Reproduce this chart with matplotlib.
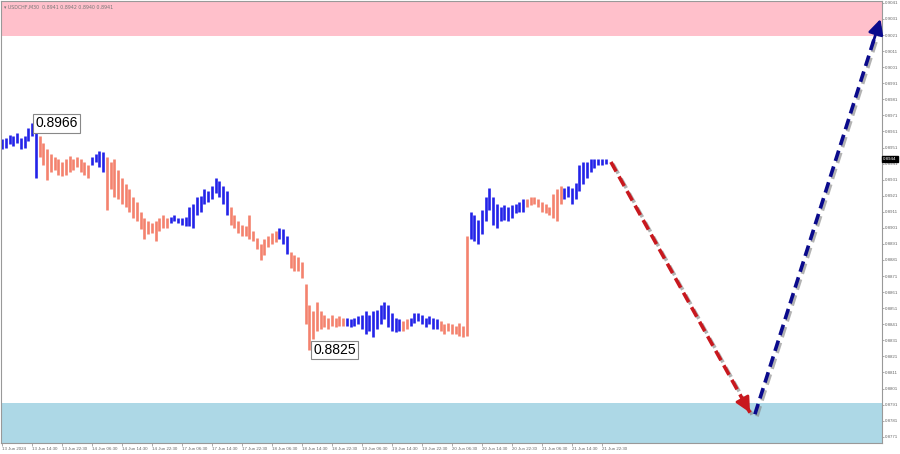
import matplotlib
matplotlib.use("Agg")
import matplotlib.pyplot as plt
import matplotlib.patheffects as pe

# USDCHF M30 chart, one entry per hour (high / low in price)
highs = [0.8956, 0.8957, 0.8959, 0.8958, 0.8960, 0.8957, 0.8958, 0.8963, 0.8966, 0.8965,
         0.8958, 0.8954, 0.8950, 0.8947, 0.8945, 0.8944, 0.8942, 0.8944, 0.8946, 0.8944,
         0.8945, 0.8944, 0.8942, 0.8940, 0.8945, 0.8947, 0.8949, 0.8948, 0.8945, 0.8942,
         0.8944, 0.8937, 0.8932, 0.8928, 0.8925, 0.8920, 0.8917, 0.8911, 0.8907, 0.8905,
         0.8904, 0.8905, 0.8907, 0.8909, 0.8907, 0.8908, 0.8909, 0.8907, 0.8907, 0.8908,
         0.8914, 0.8916, 0.8920, 0.8921, 0.8925, 0.8924, 0.8927, 0.8932, 0.8930, 0.8927,
         0.8924, 0.8914, 0.8909, 0.8905, 0.8903, 0.8902, 0.8909, 0.8899, 0.8895, 0.8891,
         0.8894, 0.8896, 0.8898, 0.8899, 0.8901, 0.8900, 0.8896, 0.8886, 0.8884, 0.8883,
         0.8880, 0.8866, 0.8853, 0.8849, 0.8855, 0.8849, 0.8847, 0.8845, 0.8847, 0.8845,
         0.8846, 0.8845, 0.8845, 0.8844, 0.8845, 0.8846, 0.8847, 0.8849, 0.8847, 0.8849,
         0.8850, 0.8853, 0.8855, 0.8853, 0.8848, 0.8845, 0.8844, 0.8843, 0.8844, 0.8845,
         0.8848, 0.8848, 0.8847, 0.8845, 0.8846, 0.8845, 0.8844, 0.8843, 0.8841, 0.8842,
         0.8841, 0.8840, 0.8842, 0.8840, 0.8896, 0.8911, 0.8909, 0.8906, 0.8912, 0.8920,
         0.8926, 0.8920, 0.8916, 0.8914, 0.8915, 0.8914, 0.8915, 0.8916, 0.8917, 0.8919,
         0.8919, 0.8920, 0.8920, 0.8919, 0.8917, 0.8916, 0.8914, 0.8922, 0.8925, 0.8927,
         0.8926, 0.8927, 0.8926, 0.8929, 0.8940, 0.8942, 0.8942, 0.8944, 0.8944, 0.8944,
         0.8944, 0.8944]
lows = [0.8950, 0.8951, 0.8953, 0.8952, 0.8954, 0.8950, 0.8951, 0.8955, 0.8958, 0.8932,
        0.8945, 0.8940, 0.8931, 0.8936, 0.8937, 0.8934, 0.8933, 0.8934, 0.8936, 0.8937,
        0.8939, 0.8936, 0.8934, 0.8932, 0.8940, 0.8942, 0.8939, 0.8936, 0.8912, 0.8925,
        0.8920, 0.8919, 0.8916, 0.8914, 0.8911, 0.8907, 0.8905, 0.8900, 0.8894, 0.8897,
        0.8898, 0.8893, 0.8899, 0.8901, 0.8901, 0.8904, 0.8905, 0.8904, 0.8903, 0.8902,
        0.8902, 0.8901, 0.8909, 0.8911, 0.8916, 0.8917, 0.8919, 0.8923, 0.8920, 0.8916,
        0.8909, 0.8903, 0.8901, 0.8898, 0.8896, 0.8896, 0.8894, 0.8893, 0.8888, 0.8881,
        0.8884, 0.8889, 0.8891, 0.8892, 0.8894, 0.8891, 0.8885, 0.8876, 0.8874, 0.8874,
        0.8870, 0.8841, 0.8825, 0.8832, 0.8837, 0.8838, 0.8839, 0.8838, 0.8840, 0.8839,
        0.8840, 0.8840, 0.8840, 0.8839, 0.8840, 0.8841, 0.8838, 0.8835, 0.8837, 0.8833,
        0.8838, 0.8841, 0.8844, 0.8839, 0.8837, 0.8836, 0.8837, 0.8837, 0.8838, 0.8840,
        0.8842, 0.8843, 0.8841, 0.8839, 0.8841, 0.8838, 0.8838, 0.8837, 0.8835, 0.8837,
        0.8835, 0.8835, 0.8834, 0.8833, 0.8834, 0.8894, 0.8893, 0.8891, 0.8897, 0.8905,
        0.8912, 0.8903, 0.8901, 0.8905, 0.8906, 0.8905, 0.8907, 0.8910, 0.8911, 0.8911,
        0.8914, 0.8915, 0.8916, 0.8914, 0.8911, 0.8910, 0.8909, 0.8907, 0.8905, 0.8916,
        0.8919, 0.8920, 0.8916, 0.8919, 0.8924, 0.8928, 0.8932, 0.8936, 0.8938, 0.8940,
        0.8940, 0.8941]

# bar index where each wave starts (alternating up / down)
wave_starts = [0, 10, 24, 28, 45, 61, 74, 77, 92, 107, 109, 117, 125, 140, 150]
up_color = "#2323e8"
down_color = "#f4826e"

time_labels = ["13 Jun 2024", "13 Jun 14:30", "13 Jun 22:30", "14 Jun 06:30", "14 Jun 14:30",
               "14 Jun 22:30", "17 Jun 06:30", "17 Jun 14:30", "17 Jun 22:30", "18 Jun 06:30",
               "18 Jun 14:30", "18 Jun 22:30", "19 Jun 06:30", "19 Jun 14:30", "19 Jun 22:30",
               "20 Jun 06:30", "20 Jun 14:30", "20 Jun 22:30", "21 Jun 06:30", "21 Jun 14:30",
               "21 Jun 22:30"]

# forecast path (bar index, price)
down_x, down_y = [162.4, 199.5], [0.8942, 0.8786]
up_x, up_y = [200.8, 234.3], [0.8785, 0.9031]

resist_zone = (0.90205, 0.9045)
support_zone = (0.8760, 0.8792)
last_price = 0.8944

# build colours per bar from the wave starts
colors = []
for i in range(len(highs)):
    n = sum(1 for s in wave_starts if s <= i)
    colors.append(up_color if n % 2 == 1 else down_color)

fig = plt.figure(figsize=(9, 4.54), dpi=100)
ax = fig.add_axes([1 / 900, 11 / 454, 881 / 900, 442 / 454])

ax.axhspan(resist_zone[0], resist_zone[1], color="#ffc0cb", lw=0, zorder=0)
ax.axhspan(support_zone[0], support_zone[1], color="#add8e6", lw=0, zorder=0)

xs = list(range(len(highs)))
ax.vlines(xs, lows, highs, colors=colors, linewidth=1.9, zorder=2)

# extremes labels
bbox = dict(boxstyle="square,pad=0.15", fc="white", ec="#888888", lw=0.8)
ax.text(8.9, 0.8966, "0.8966", fontsize=10, family="Liberation Sans", va="center",
        ha="left", bbox=bbox, zorder=4)
ax.text(83.0, 0.8825, "0.8825", fontsize=10, family="Liberation Sans", va="center",
        ha="left", bbox=bbox, zorder=4)

# forecast arrows
shadow = [pe.SimpleLineShadow(offset=(1.5, -1.5), shadow_color="gray", alpha=0.6), pe.Normal()]
for px, py, col in [(down_x, down_y, "#c8181e"), (up_x, up_y, "#0a0a8c")]:
    ax.plot(px, py, color=col, lw=2.6, ls=(0, (3, 1.6)), path_effects=shadow, zorder=3)
    bx = px[1] - (px[1] - px[0]) * 0.06
    by = py[1] - (py[1] - py[0]) * 0.06
    ax.annotate("", xy=(px[1], py[1]), xytext=(bx, by),
                arrowprops=dict(arrowstyle="-|>,head_length=0.9,head_width=0.45",
                                color=col, lw=2.0, shrinkA=0, shrinkB=0), zorder=3)

ax.set_xlim(-0.27, 234.7)
ax.set_ylim(0.87671, 0.90422)

small = dict(family="Liberation Sans", size=3.2)
ax.set_xticks(range(0, 8 * len(time_labels), 8))
ax.set_xticklabels(time_labels, color="#666666", ha="left", **small)
ax.tick_params(axis="x", length=2, width=0.5, color="#888888", pad=1.2)

ax.yaxis.tick_right()
yt = [round(0.8771 + 0.001 * k, 4) for k in range(28)]
ax.set_yticks(yt)
ax.set_yticklabels(["%.4f" % v for v in yt], color="#666666", **small)
ax.tick_params(axis="y", length=1.5, width=0.5, color="#888888", pad=0.6)

ax.text(1.0015, last_price, "%.4f" % last_price, transform=ax.get_yaxis_transform(),
        color="white", va="center", ha="left",
        bbox=dict(boxstyle="square,pad=0.25", fc="black", ec="black"), **small)

ax.text(0.003, 0.992, "\u25be USDCHF,M30  0.8941 0.8942 0.8940 0.8941", transform=ax.transAxes,
        fontsize=3.4, color="#777777", va="top", ha="left")

for s in ax.spines.values():
    s.set_color("#999999")
    s.set_linewidth(0.8)

fig.savefig("out.png", dpi=100)
